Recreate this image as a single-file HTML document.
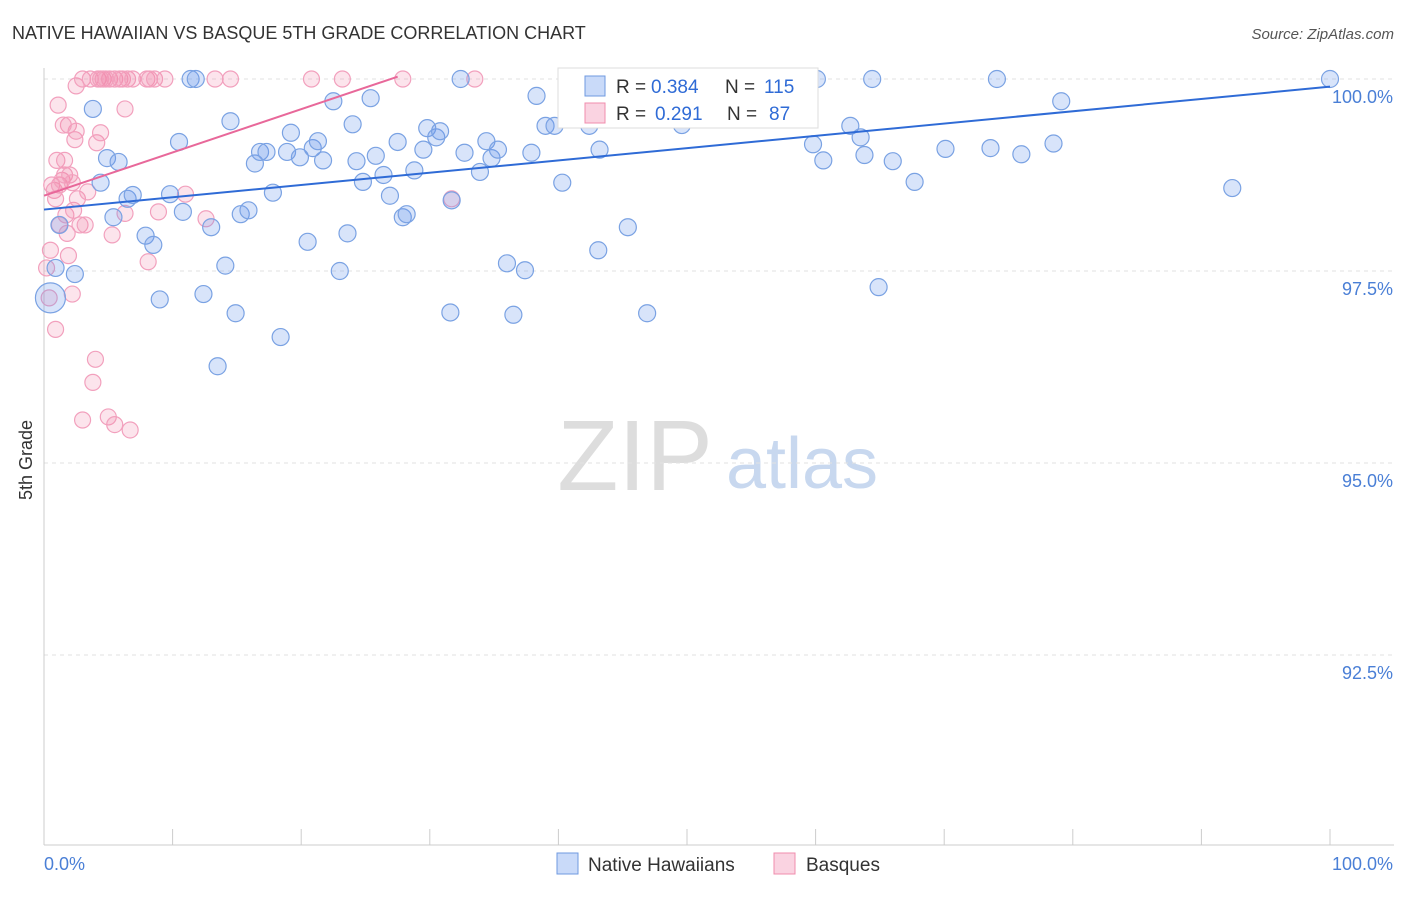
<!DOCTYPE html>
<html><head><meta charset="utf-8"><style>
body{margin:0;background:#fff;font-family:"Liberation Sans",sans-serif;}
svg text{font-family:"Liberation Sans",sans-serif;}
</style></head><body>
<svg id="chart" width="1406" height="892">
<text x="12" y="39" font-size="18" fill="#333">NATIVE HAWAIIAN VS BASQUE 5TH GRADE CORRELATION CHART</text>
<text x="1394" y="39" font-size="15" fill="#555" font-style="italic" text-anchor="end">Source: ZipAtlas.com</text>
<text x="32" y="460" font-size="18" fill="#333" transform="rotate(-90 32 460)" text-anchor="middle">5th Grade</text>
<g><text x="635" y="490" font-size="100" fill="#ddd" font-family="Liberation Serif" text-anchor="middle">ZIP</text><text x="802" y="488" font-size="72" fill="#c8d8ef" text-anchor="middle">atlas</text></g>
<g id="grid"></g><g id="axes"></g><g id="marks"></g>
<g>
<rect x="558" y="68" width="260" height="60" fill="#fff" stroke="#ddd"/>
<rect x="585" y="76" width="20" height="20" fill="rgba(100,149,237,0.35)" stroke="#6f9ae0"/>
<text y="93" font-size="19" fill="#333"><tspan x="616">R =</tspan><tspan x="651" fill="#2f6bd6">0.384</tspan><tspan x="725">N =</tspan><tspan x="764" fill="#2f6bd6">115</tspan></text>
<rect x="585" y="103" width="20" height="20" fill="rgba(240,130,170,0.35)" stroke="#f08cad"/>
<text y="120" font-size="19" fill="#333"><tspan x="616">R =</tspan><tspan x="655" fill="#2f6bd6">0.291</tspan><tspan x="727">N =</tspan><tspan x="769" fill="#2f6bd6">87</tspan></text>
</g>
<g>
<rect x="557" y="853" width="21" height="21" fill="rgba(100,149,237,0.35)" stroke="#6f9ae0"/>
<text x="588" y="871" font-size="19" fill="#333">Native Hawaiians</text>
<rect x="774" y="853" width="21" height="21" fill="rgba(240,130,170,0.35)" stroke="#f08cad"/>
<text x="806" y="871" font-size="19" fill="#333">Basques</text>
</g>
</svg>
<script>
const yTicks=[100,97.5,95,92.5];
const yTickLabels=["100.0%","97.5%","95.0%","92.5%"];
const blueX=[0.5,0.9,1.2,2.4,3.8,4.4,4.9,5.4,5.8,6.5,6.9,7.9,8.5,9.0,9.8,10.5,10.8,11.4,11.8,12.4,13.0,14.1,14.5,14.9,13.5,15.3,15.9,16.4,16.8,17.3,17.8,18.4,18.9,19.2,19.9,20.5,20.9,21.3,21.7,22.5,23.0,23.6,24.0,24.3,24.8,25.4,25.8,26.4,26.9,27.5,27.9,28.2,28.8,29.5,29.8,30.5,30.8,31.6,31.7,32.4,32.7,33.9,34.4,34.8,35.3,36.0,36.5,37.4,37.9,38.3,39.0,39.7,40.3,41.7,42.4,43.1,43.2,43.9,45.4,45.8,46.9,47.6,49.6,52.0,59.8,60.1,60.6,62.7,63.5,63.8,64.4,64.9,66.0,67.7,70.1,74.1,73.6,76.0,78.5,79.1,92.4,100,59.4,54.5];
const blueY=[97.15,97.54,98.1,97.46,99.61,98.65,98.97,98.2,98.92,98.44,98.49,97.96,97.84,97.13,98.5,99.18,98.27,100,100,97.2,98.07,97.57,99.45,96.95,96.26,98.24,98.29,98.9,99.05,99.05,98.52,96.64,99.05,99.3,98.98,97.88,99.1,99.19,98.94,99.71,97.5,97.99,99.41,98.93,98.66,99.75,99.0,98.75,98.48,99.18,98.2,98.24,98.81,99.08,99.36,99.24,99.32,96.96,98.42,100,99.04,98.79,99.19,98.97,99.08,97.6,96.93,97.51,99.04,99.78,99.39,99.39,98.65,100,99.39,97.77,99.08,99.49,98.07,99.6,96.95,100,99.4,100,99.15,100,98.94,99.39,99.24,99.01,100,97.29,98.93,98.66,99.09,100,99.1,99.02,99.16,99.71,98.58,100,100,100];
const pinkX=[0.2,0.4,0.5,0.6,0.8,0.9,1.0,1.1,1.2,1.2,1.4,1.6,1.7,1.8,1.9,1.9,2.0,2.2,2.3,2.4,2.5,2.5,2.6,2.8,3.0,3.0,3.2,3.4,3.6,3.8,4.0,4.1,4.2,4.4,4.6,5.0,5.1,5.3,5.5,5.5,5.9,6.1,6.3,6.3,6.5,6.7,6.9,8.0,8.1,8.2,8.6,8.9,9.4,11.0,12.6,13.3,14.5,20.8,23.2,27.9,31.7,33.5,1.5,1.6,2.2,0.9,4.4,4.8];
const pinkY=[97.54,97.15,97.77,98.62,98.55,96.74,98.94,99.66,98.1,98.62,98.68,98.75,98.23,97.99,99.4,97.7,98.75,97.2,98.29,99.21,99.32,99.91,98.44,98.1,95.56,100,98.1,98.53,100,96.05,96.35,99.17,100,99.3,100,95.6,100,97.97,100,95.5,100,100,98.25,99.61,100,95.43,100,100,97.62,100,100,98.27,100,98.5,98.18,100,100,100,100,100,98.44,100,99.4,98.94,98.65,98.44,100,100];
const blueTrend=[0,98.3,100,99.9];
const pinkTrend=[0,98.48,27.5,100.03];
const X0=44,X1=1330,Y100=79,PX=76.8;
const xs=v=>X0+(X1-X0)*v/100, ys=v=>Y100+(100-v)*PX;
const NS="http://www.w3.org/2000/svg";
function mk(t,a,p){const e=document.createElementNS(NS,t);for(const k in a)e.setAttribute(k,a[k]);p.appendChild(e);return e;}
const grid=document.getElementById('grid'),axes=document.getElementById('axes'),marks=document.getElementById('marks');
yTicks.forEach((t,i)=>{
 const l=mk('line',{x1:X0,x2:1394,y1:ys(t),y2:ys(t),stroke:'#e2e2e2','stroke-dasharray':'4,4'},grid);
 
 
 const tx=mk('text',{x:1393,y:ys(t)+24,'font-size':18,fill:'#4a7fd6','text-anchor':'end'},axes);tx.textContent=yTickLabels[i];
 
 
});
mk('line',{x1:X0,x2:X0,y1:68,y2:845,stroke:'#ccc'},axes);
mk('line',{x1:X0,x2:1394,y1:845,y2:845,stroke:'#ccc'},axes);
for(let i=0;i<=10;i++){mk('line',{x1:xs(i*10),x2:xs(i*10),y1:829,y2:845,stroke:'#ccc'},axes);}
const xl=mk('text',{x:44,y:870,'font-size':18,fill:'#4a7fd6'},axes);xl.textContent='0.0%';


const xr=mk('text',{x:1393,y:870,'font-size':18,fill:'#4a7fd6','text-anchor':'end'},axes);xr.textContent='100.0%';


pinkX.forEach((x,i)=>{const c=mk('circle',{cx:xs(x),cy:ys(pinkY[i]),r:8,fill:'rgba(240,130,170,0.22)',stroke:'#f2a0bd','stroke-width':1.2},marks);
 
 });
blueX.forEach((x,i)=>{const c=mk('circle',{cx:xs(x),cy:ys(blueY[i]),r:i==0?15:8.5,fill:'rgba(100,149,237,0.25)',stroke:'#7aa2e3','stroke-width':1.2},marks);
 
 });
const bt=mk('line',{x1:xs(blueTrend[0]),y1:ys(blueTrend[1]),x2:xs(blueTrend[2]),y2:ys(blueTrend[3]),stroke:'#2f6bd6','stroke-width':2},marks);


const pt=mk('line',{x1:xs(pinkTrend[0]),y1:ys(pinkTrend[1]),x2:xs(pinkTrend[2]),y2:ys(pinkTrend[3]),stroke:'#e8689a','stroke-width':2},marks);


</script>
</body></html>
